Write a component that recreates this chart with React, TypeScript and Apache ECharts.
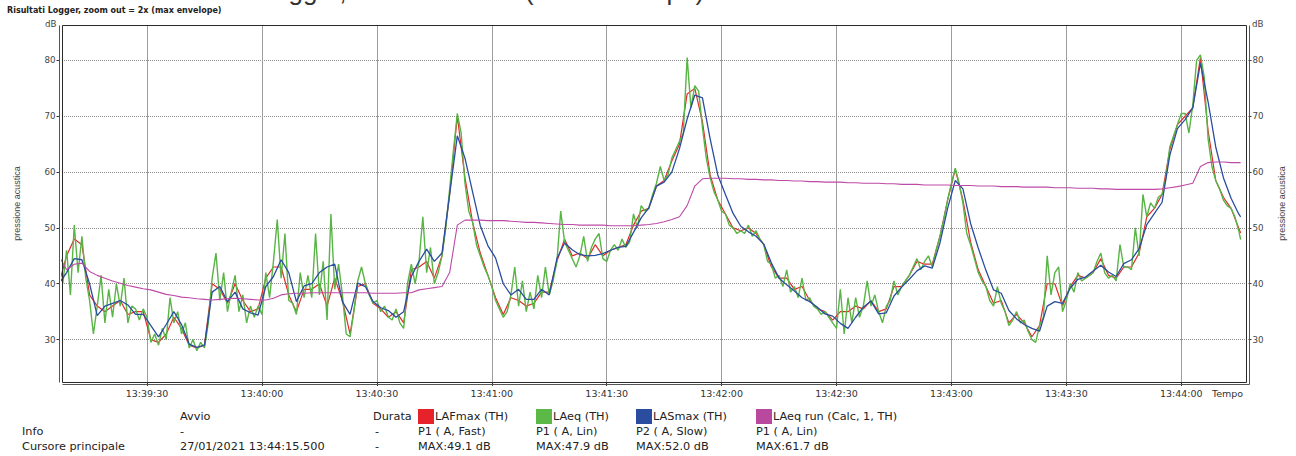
import React, { useEffect, useRef } from 'react';
import * as echarts from 'echarts';

// ---- time base (seconds of day) ----
const T0 = 13 * 3600 + 39 * 60; // 13:39:00
const VIEW_FROM = 7.8; // seconds after 13:39:00
const VIEW_TO = 316.9;
const LEVEL_MIN = 22.4;
const LEVEL_MAX = 86.35;

const TIME_TICKS = ['13:39:30', '13:40:00', '13:40:30', '13:41:00', '13:41:30', '13:42:00', '13:42:30', '13:43:00', '13:43:30', '13:44:00'];
const LEVEL_TICKS = [30, 40, 50, 60, 70, 80];

// LAeq (TH): one value per second, from 13:39:08
const LAEQ_START = 8;
const LAEQ = [
  40, 46, 38, 50.5, 42, 48.5, 41, 37, 31, 36,
  41.5, 33, 39, 34, 40, 36, 41, 33, 36, 35.5,
  33.5, 35.5, 34, 29.5, 31, 29, 32, 30, 37.5, 33,
  35, 31, 33, 28.5, 30, 28, 29.5, 28.5, 33, 41,
  45.5, 37, 42, 35, 38.5, 41.5, 35, 38, 33, 36,
  34, 36, 34.5, 42, 37.5, 44, 51.5, 41, 49, 37,
  36.5, 34.5, 42, 37.5, 41.5, 37.5, 49, 38, 44, 33.5,
  52.5, 39, 43.5, 38, 31, 30.5, 35, 40.5, 43, 40,
  38, 36.5, 37, 35, 36, 34, 33.5, 35.5, 33, 32,
  40, 43.5, 40, 44, 52, 42, 46.5, 40, 42, 45,
  50, 57, 64, 70.5, 67, 58, 53, 51, 47, 45,
  43, 41.5, 39.5, 37, 35.5, 34, 35, 38, 43, 36,
  40.5, 35, 38.5, 35.5, 41.5, 37.5, 43, 38, 40.5, 44,
  53, 47.5, 46, 44.5, 43, 45, 48.5, 44, 46.5, 48,
  49, 44.5, 44, 46, 47, 46, 48, 46.5, 47.5, 52.5,
  50, 54, 53, 53.5, 56, 58, 61, 58.5, 59.5, 62.5,
  64, 65.5, 67, 80.5, 71.5, 75.5, 74.5, 68, 62.5, 59,
  56.5, 55, 53, 52.5, 50.5, 50, 49, 49.5, 49, 50.5,
  48.5, 49.5, 48, 47, 44, 43.5, 41, 41.5, 39.5, 42.5,
  38.5, 39.5, 37.5, 41, 37, 37.5, 36, 35.5, 34.5, 35,
  34, 33, 32, 39, 31, 37.5, 33, 37.5, 34, 36,
  40.5, 36, 38, 35, 33, 36, 37, 40.5, 38, 39.5,
  40.5, 41.5, 43, 44.5, 42.5, 44, 45, 43, 46, 48.5,
  51.5, 55, 58, 60.7, 58, 54.5, 49, 47, 44.5, 42,
  40.5, 39.5, 37, 36, 39.5, 36.5, 35, 32.5, 33.5, 35,
  33, 33.5, 31.5, 30, 29.5, 32.5, 34, 45, 38, 42,
  43, 35, 37, 40, 38.5, 42, 40.5, 41, 41.5, 42,
  44, 45.5, 42, 41, 41.5, 40.5, 47, 43, 43, 42.5,
  50, 45, 56, 52, 54.5, 53.5, 55.5, 56, 59, 64.5,
  66.5, 68.5, 70.5, 70.5, 67, 72, 80, 81, 77, 66,
  61, 58.5, 57, 55, 54, 53.5, 52, 49.5,
];

// LAFmax, LASmax and LAeq run: one value every 2 s, from 13:39:07
const SLOW_START = 7;
const SLOW_STEP = 2;
const LAFMAX = [
  40, 45, 48, 47, 38, 36, 35, 36, 37, 34.5,
  35, 35, 30, 29.5, 31, 34, 32, 29, 28.5, 29,
  40, 39, 36.5, 40, 37, 35, 35.5, 41, 43, 43,
  38, 35, 39, 39, 40, 36, 41, 37, 31, 39.5,
  40, 36.5, 35.5, 34, 35, 33, 42.5, 43, 44, 41,
  45, 56, 70, 59, 51, 45.5, 41.5, 37.5, 34.5, 37.5,
  37, 36, 36.5, 38.5, 38.5, 44, 48, 45, 45.5, 44.5,
  47, 45, 46, 46.5, 47, 50.5, 53, 53.5, 57.5, 58.5,
  62, 65, 74, 75, 69, 59.5, 55, 52.5, 50, 49.5,
  50, 49, 47, 43, 41, 41, 39, 39.5, 37, 35.5,
  35, 33.5, 35, 35, 36, 35.5, 37, 35, 35.5, 39.5,
  39.5, 41.5, 44, 43.5, 43.5, 48.5, 55, 60.5, 55, 47.5,
  42.5, 39.5, 36.5, 37, 33, 34.5, 33, 30.5, 32.5, 40,
  40, 36, 39.5, 41.5, 41, 42, 44.5, 41.5, 41, 43,
  43, 45.5, 52, 53.5, 56, 64, 68.5, 70, 71.5, 80.5,
  67.5, 58.5, 55.5, 53.5, 50,
];
const LASMAX = [
  40, 42, 44.5, 44.3, 40, 34.3, 36, 36.5, 37, 36.2,
  34.5, 34.5, 32.5, 30.5, 32.7, 35, 32.7, 29.2, 28.6, 29,
  38.5, 39.5, 36.8, 38.5, 35.5, 34.8, 34.4, 39.5, 41.3, 44.3,
  42, 36.8, 39.6, 40, 42, 43, 43.5, 36.8, 34.5, 40.1,
  39.5, 36.8, 35.7, 35.2, 34, 35, 41.3, 44, 46.2, 44,
  45.5, 56, 66.5, 62.5, 56.4, 50.4, 46.8, 44.6, 40, 38,
  39, 37.2, 37.2, 39, 38, 44.5, 47.3, 46.1, 45.2, 45,
  45.1, 45.4, 46, 46.5, 46.7, 49.2, 51.8, 53.6, 57.5, 58.2,
  60, 64.2, 69.5, 73.8, 73.3, 66, 59.5, 56, 52.6, 50.3,
  49.3, 48.5, 47.1, 43.7, 41, 39.8, 38.7, 37.5, 36.8, 35.8,
  34.6, 34.2, 32.9, 32, 34, 35.8, 36.9, 34.6, 34.8, 37.8,
  39.4, 40.8, 42.3, 43.2, 42.8, 47.3, 53.5, 58.5, 57, 50.8,
  46.4, 42.4, 38.9, 38.3, 35.2, 33.7, 32.7, 32, 31.5, 36,
  36.8, 36.5, 39.2, 40.8, 41.2, 42.3, 43.3, 42.1, 41.3, 43.6,
  44.3, 46.3, 50.6, 52.6, 54.6, 63, 67.8, 69.4, 71.5, 79.5,
  72.6, 64.5, 59, 55.3, 52.5,
];
const LAEQ_RUN = [
  45, 42.5, 43.5, 43.7, 42.2, 41.5, 41, 40.5, 40.1, 39.7,
  39.4, 39.1, 38.9, 38.5, 38.1, 37.9, 37.6, 37.5, 37.3, 37.2,
  37.1, 37.2, 37.3, 37.4, 37.3, 37.2, 37.1, 37.1, 37.4, 38,
  38.2, 38.3, 38.3, 38.4, 38.4, 38.4, 38.4, 38.4, 38.4, 38.4,
  38.4, 38.3, 38.3, 38.3, 38.3, 38.4, 38.4, 38.9, 39.1, 39.3,
  39.5, 42, 50.5, 51.4, 51.4, 51.4, 51.3, 51.3, 51.3, 51.2,
  51.1, 51, 51, 50.9, 50.8, 50.7, 50.6, 50.6, 50.5, 50.5,
  50.5, 50.5, 50.4, 50.4, 50.4, 50.4, 50.5, 50.6, 50.8, 51.1,
  51.5, 52, 54, 57.5, 58.8, 58.9, 58.9, 58.9, 58.8, 58.8,
  58.7, 58.7, 58.6, 58.6, 58.5, 58.5, 58.4, 58.4, 58.3, 58.3,
  58.2, 58.2, 58.2, 58.1, 58.1, 58, 58, 58, 57.9, 57.9,
  57.8, 57.8, 57.8, 57.7, 57.7, 57.7, 57.7, 57.6, 57.6, 57.6,
  57.5, 57.5, 57.5, 57.4, 57.4, 57.4, 57.3, 57.3, 57.3, 57.3,
  57.2, 57.2, 57.2, 57.1, 57.1, 57.1, 57, 57, 56.9, 56.9,
  56.9, 56.9, 56.9, 56.9, 57, 57.2, 57.4, 57.7, 58, 61,
  61.7, 61.8, 61.8, 61.7, 61.7,
];

// main cursor read-out
const CURSOR_DATE = '27/01/2021';
const CURSOR_TIME = '13:44:15.500';
const CHANNEL_NAMES = ['LAFmax (TH)', 'LAeq (TH)', 'LASmax (TH)', 'LAeq run (Calc, 1, TH)'];
const CHANNEL_INFO = ['P1 ( A, Fast)', 'P1 ( A, Lin)', 'P2 ( A, Slow)', 'P1 ( A, Lin)'];
const CURSOR_MAX = [49.1, 47.9, 52.0, 61.7];

const TITLE = 'Risultati Logger, zoom out = 2x (max envelope)';
const AXIS_NAME = 'pressione acustica';

// ---- styling ----
const COLORS = ['#e8222b', '#5cb947', '#2b4d9f', '#b9489f'];
const LINE_COLORS = ['#e32a2a', '#58b545', '#2a4da0', '#bd4aa6'];
const LINE_WIDTHS = [1.2, 1.4, 1.3, 1.1];
const SANS = '"DejaVu Sans", Verdana, sans-serif';
const ARIAL = '"Liberation Sans", Arial, sans-serif';

const toSec = (hms: string) => {
  const [h, m, s] = hms.split(':').map(Number);
  return h * 3600 + m * 60 + s;
};
const fmtTime = (v: number) => {
  const t = Math.round(v);
  const h = Math.floor(t / 3600);
  const m = Math.floor((t % 3600) / 60);
  const s = t % 60;
  const p = (n: number) => String(n).padStart(2, '0');
  return `${p(h)}:${p(m)}:${p(s)}`;
};

// [time, level] pairs, closed by the value read at the main cursor
const pairs = (start: number, step: number, values: number[], cursorValue: number) =>
  values
    .map((v, i) => [T0 + start + i * step, v])
    .concat([[toSec(CURSOR_TIME), cursorValue]]);

function buildOption() {
  const tickSecs = TIME_TICKS.map(toSec);

  const seriesData = [
    pairs(SLOW_START, SLOW_STEP, LAFMAX, CURSOR_MAX[0]),
    pairs(LAEQ_START, 1, LAEQ, CURSOR_MAX[1]),
    pairs(SLOW_START, SLOW_STEP, LASMAX, CURSOR_MAX[2]),
    pairs(SLOW_START, SLOW_STEP, LAEQ_RUN, CURSOR_MAX[3]),
  ];

  const yAxisBase = {
    type: 'value',
    min: LEVEL_MIN,
    max: LEVEL_MAX,
    offset: 2.5,
    axisLine: { show: false },
    axisTick: { show: true, length: 3, customValues: LEVEL_TICKS, lineStyle: { color: '#333', width: 1 } },
    axisLabel: { customValues: LEVEL_TICKS, margin: 4, color: '#444', fontSize: 8.7, fontFamily: SANS },
    name: AXIS_NAME,
    nameLocation: 'middle',
    nameRotate: 90,
    nameTextStyle: { color: '#444', fontSize: 9, fontFamily: ARIAL },
  };

  const text = (x: number, y: number, str: string, extra: any = {}) => ({
    type: 'text',
    x,
    y,
    silent: true,
    style: {
      text: str,
      fill: '#222',
      fontSize: 11.3,
      fontFamily: SANS,
      verticalAlign: 'middle',
      textVerticalAlign: 'middle',
      ...extra,
    },
  });

  const rowY = [416.5, 431.5, 446.5];
  const colX = [418, 536, 636, 756];

  const graphic: any[] = [
    // plot frame with the offset outer lines
    { type: 'rect', silent: true, z: 50, shape: { x: 62.5, y: 25.5, width: 1184, height: 357 }, style: { fill: 'none', stroke: '#2a2a2a', lineWidth: 1 } },
    { type: 'line', silent: true, z: 50, shape: { x1: 59.5, y1: 25.5, x2: 59.5, y2: 382.5 }, style: { stroke: '#555', lineWidth: 1 } },
    { type: 'line', silent: true, z: 50, shape: { x1: 1249.5, y1: 25.5, x2: 1249.5, y2: 384.5 }, style: { stroke: '#555', lineWidth: 1 } },
    { type: 'line', silent: true, z: 50, shape: { x1: 62.5, y1: 384.5, x2: 1249.5, y2: 384.5 }, style: { stroke: '#555', lineWidth: 1 } },
    // titles: the large heading sits mostly above the page edge
    text(160, -9, TITLE, { fontSize: 26, fontFamily: ARIAL, fill: '#333' }),
    text(7, 10, TITLE, { fontSize: 8, fontWeight: 'bold', fill: '#222' }),
    // axis units
    text(56.5, 24, 'dB', { fontSize: 8.7, fill: '#444', align: 'right', textAlign: 'right' }),
    text(1252, 24, 'dB', { fontSize: 8.7, fill: '#444' }),
    text(1212, 393, 'Tempo', { fontSize: 9.5, fill: '#333' }),
    // cursor table
    text(180, rowY[0], 'Avvio'),
    text(373, rowY[0], 'Durata'),
    text(22, rowY[1], 'Info'),
    text(180, rowY[1], '-'),
    text(375, rowY[1], '-'),
    text(22, rowY[2], 'Cursore principale'),
    text(180, rowY[2], `${CURSOR_DATE} ${CURSOR_TIME}`),
    text(375, rowY[2], '-'),
  ];
  CHANNEL_NAMES.forEach((name, i) => {
    graphic.push({ type: 'rect', silent: true, shape: { x: colX[i], y: 409, width: 16, height: 15 }, style: { fill: COLORS[i] } });
    graphic.push(text(colX[i] + 17, rowY[0], name));
    graphic.push(text(colX[i], rowY[1], CHANNEL_INFO[i]));
    graphic.push(text(colX[i], rowY[2], `MAX:${CURSOR_MAX[i].toFixed(1)} dB`));
  });

  return {
    animation: false,
    backgroundColor: '#ffffff',
    grid: { left: 62, top: 25, width: 1184, height: 357, containLabel: false, outerBoundsMode: 'none' },
    xAxis: {
      type: 'value',
      min: T0 + VIEW_FROM,
      max: T0 + VIEW_TO,
      axisLine: { show: false },
      axisTick: { show: true, length: 4, customValues: tickSecs, lineStyle: { color: '#333', width: 1 } },
      axisLabel: { customValues: tickSecs, formatter: (v: number) => fmtTime(v), margin: 6, color: '#333', fontSize: 9.5, fontFamily: SANS },
      splitLine: { show: true, lineStyle: { color: '#9c9c9c', width: 1 } },
    },
    yAxis: [
      {
        ...yAxisBase,
        position: 'left',
        nameGap: 38,
        splitLine: { show: true, lineStyle: { color: '#8c8c8c', width: 1, type: [1, 1] } },
      },
      {
        ...yAxisBase,
        position: 'right',
        nameGap: 29,
        splitLine: { show: false },
      },
    ],
    series: seriesData.map((data, i) => ({
      type: 'line',
      name: CHANNEL_NAMES[i],
      data,
      yAxisIndex: 0,
      showSymbol: false,
      symbol: 'none',
      silent: true,
      clip: true,
      z: 2 + i,
      lineStyle: { color: LINE_COLORS[i], width: LINE_WIDTHS[i] },
      itemStyle: { color: LINE_COLORS[i] },
    })),
    graphic,
  };
}

export default function App() {
  const ref = useRef<HTMLDivElement>(null);
  useEffect(() => {
    if (!ref.current) return;
    const chart = echarts.init(ref.current, undefined, { renderer: 'svg' });
    chart.setOption(buildOption() as any);
    return () => chart.dispose();
  }, []);
  return (
    <div
      ref={ref}
      style={{ position: 'fixed', left: 0, top: 0, width: 1296, height: 456, background: '#fff' }}
    />
  );
}
